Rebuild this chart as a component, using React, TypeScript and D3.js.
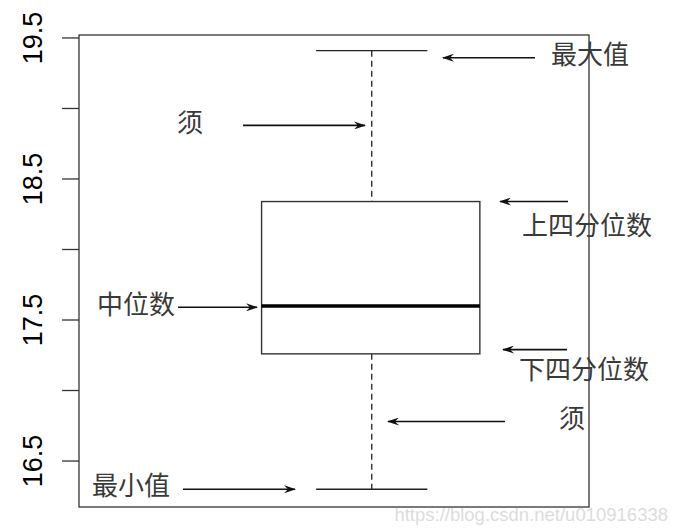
import React from 'react';
import * as d3 from 'd3';

// box plot summary
const statNames = ['min', 'q1', 'median', 'q3', 'max'];
const statValues = [16.3, 17.26, 17.6, 18.34, 19.41];
const yTicks = [16.5, 17, 17.5, 18, 18.5, 19, 19.5];
const yTickLabels = ['16.5', '', '17.5', '', '18.5', '', '19.5'];

// annotations: label and the height (data units) of its arrow
const noteLabels = ['最大值', '须', '上四分位数', '中位数', '下四分位数', '须', '最小值'];
const noteArrowY = [19.36, 18.88, 18.34, 17.59, 17.29, 16.78, 16.3];

const W = 679;
const H = 530;
const frame = { left: 79, right: 589, top: 35, bottom: 507 };

const App: React.FC = () => {
  const y = d3.scaleLinear().domain([16.174, 19.521]).range([frame.bottom, frame.top]);
  const x = d3.scaleLinear().domain([0, 1]).range([frame.left, frame.right]);

  const s: Record<string, number> = {};
  statNames.forEach((n, i) => (s[n] = statValues[i]));

  const cx = x(0.574);
  const boxL = x(0.358);
  const boxR = x(0.786);
  const capL = x(0.465);
  const capR = x(0.683);

  // arrow layout: [x1, x2, textX, text dy from arrow, anchor]
  const arrowLayout: [number, number, number, number, string][] = [
    [535, 443, 551, -1, 'start'],
    [243, 365, 190, 0, 'middle'],
    [568, 500, 522, 26, 'start'],
    [178, 257, 97, 0, 'start'],
    [567, 503, 519, 22, 'start'],
    [505, 388, 572, -1, 'middle'],
    [183, 295, 92, -1, 'start'],
  ];

  const cjk = '"Noto Sans CJK SC", sans-serif';

  return (
    <div style={{ position: 'absolute', left: 0, top: 0 }}>
      <svg width={W} height={H} viewBox={`0 0 ${W} ${H}`} style={{ display: 'block', background: '#fff' }}>
        <defs>
          <marker id="ah" viewBox="0 0 12 8" refX="11" refY="4" markerWidth="12" markerHeight="8" markerUnits="userSpaceOnUse" orient="auto">
            <path d="M0,0 L12,4 L0,8 L4,4 Z" fill="#111" />
          </marker>
        </defs>

        {/* frame */}
        <rect x={frame.left} y={frame.top} width={frame.right - frame.left} height={frame.bottom - frame.top}
          fill="none" stroke="#333" strokeWidth={1.3} />

        {/* y axis ticks */}
        {yTicks.map((t, i) => (
          <g key={t}>
            <line x1={frame.left - 17} x2={frame.left} y1={y(t)} y2={y(t)} stroke="#333" strokeWidth={1.3} />
            {yTickLabels[i] && (
              <text transform={`translate(42,${y(t)}) rotate(-90)`} textAnchor="middle"
                fontFamily="Liberation Sans, Arial, sans-serif" fontSize={27} fill="#000">
                {yTickLabels[i]}
              </text>
            )}
          </g>
        ))}

        {/* whiskers */}
        <line x1={cx} x2={cx} y1={y(s.max)} y2={y(s.q3)} stroke="#222" strokeWidth={1.3} strokeDasharray="6,4" />
        <line x1={cx} x2={cx} y1={y(s.q1)} y2={y(s.min)} stroke="#222" strokeWidth={1.3} strokeDasharray="6,4" />
        <line x1={capL} x2={capR} y1={y(s.max)} y2={y(s.max)} stroke="#222" strokeWidth={1.4} />
        <line x1={capL} x2={capR} y1={y(s.min)} y2={y(s.min)} stroke="#222" strokeWidth={1.4} />

        {/* box */}
        <rect x={boxL} y={y(s.q3)} width={boxR - boxL} height={y(s.q1) - y(s.q3)} fill="#fff" stroke="#333" strokeWidth={1.4} />
        <line x1={boxL} x2={boxR} y1={y(s.median)} y2={y(s.median)} stroke="#000" strokeWidth={3.5} />

        {/* annotations */}
        {noteLabels.map((lab, i) => {
          const [x1, x2, tx, dy, anchor] = arrowLayout[i];
          const ay = y(noteArrowY[i]);
          return (
            <g key={i}>
              <line x1={x1} x2={x2} y1={ay} y2={ay} stroke="#111" strokeWidth={1.6} markerEnd="url(#ah)" />
              <text x={tx} y={ay + dy} textAnchor={anchor} dominantBaseline="middle"
                fontFamily={cjk} fontSize={26} fill="#3a3a3a">
                {lab}
              </text>
            </g>
          );
        })}

        {/* watermark */}
        <text x={668} y={516} textAnchor="end" dominantBaseline="middle" fontFamily="Liberation Sans, Arial, sans-serif"
          fontSize={18.5} fill="#dcdcdc">
          https://blog.csdn.net/u010916338
        </text>
      </svg>
    </div>
  );
};

export default App;
